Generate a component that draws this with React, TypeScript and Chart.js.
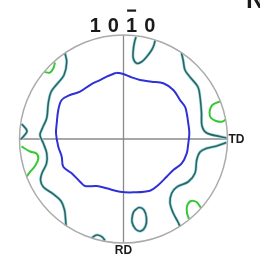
import React, { useEffect, useRef } from "react";
import { Chart, registerables } from "chart.js";

Chart.register(...registerables);

// Pole figure {10-10}, coordinates in % of projection radius (x → TD, y ← RD up)
type P = { x: number; y: number };

const blueLevel: P[] = [
  { x: -6.5, y: 63.8 }, { x: -0.2, y: 62.5 }, { x: 7.9, y: 59.3 }, { x: 15.9, y: 56.7 },
  { x: 27.1, y: 55.1 }, { x: 38.3, y: 53.6 }, { x: 47.9, y: 47.1 }, { x: 54.3, y: 37.5 },
  { x: 59.1, y: 31.1 }, { x: 60.8, y: 24.7 }, { x: 62.3, y: 15.1 }, { x: 63.3, y: 5.5 },
  { x: 62.3, y: -4.1 }, { x: 60.8, y: -13.8 }, { x: 56.0, y: -23.4 }, { x: 47.9, y: -29.8 },
  { x: 41.5, y: -36.3 }, { x: 33.5, y: -44.2 }, { x: 25.5, y: -49.7 }, { x: 9.4, y: -51.3 },
  { x: -3.4, y: -50.7 }, { x: -16.2, y: -47.4 }, { x: -25.8, y: -45.2 }, { x: -37.0, y: -45.2 },
  { x: -41.8, y: -41.1 }, { x: -49.8, y: -33.0 }, { x: -57.9, y: -26.6 }, { x: -59.4, y: -17.0 },
  { x: -62.7, y: -7.4 }, { x: -64.9, y: 5.5 }, { x: -64.2, y: 15.1 }, { x: -62.7, y: 27.9 },
  { x: -59.4, y: 37.5 }, { x: -51.4, y: 42.3 }, { x: -41.8, y: 45.5 }, { x: -32.2, y: 51.9 },
  { x: -22.6, y: 56.7 }, { x: -16.2, y: 59.9 }, { x: -8.2, y: 63.2 }, { x: -6.5, y: 63.8 },
];

const tealLeft: P[] = [
  { x: -56.3, y: 82.7 }, { x: -54.6, y: 74.0 }, { x: -57.2, y: 61.5 }, { x: -63.9, y: 52.9 },
  { x: -69.7, y: 45.2 }, { x: -72.3, y: 34.6 }, { x: -73.8, y: 20.2 }, { x: -77.9, y: 10.6 },
  { x: -80.3, y: 3.8 }, { x: -77.1, y: -4.1 }, { x: -73.8, y: -13.8 }, { x: -74.0, y: -23.4 },
  { x: -78.4, y: -33.0 }, { x: -79.8, y: -39.4 }, { x: -77.1, y: -46.2 }, { x: -67.5, y: -52.9 },
  { x: -60.1, y: -59.6 }, { x: -56.7, y: -68.3 }, { x: -55.8, y: -76.0 }, { x: -55.3, y: -83.5 },
];

const tealLeftEdge: P[] = [
  { x: -97.9, y: 14.4 }, { x: -92.8, y: 7.7 }, { x: -96.6, y: 1.9 }, { x: -99.0, y: -0.5 },
];

const tealTop: P[] = [
  { x: 12.0, y: 98.0 }, { x: 10.6, y: 93.3 }, { x: 9.4, y: 85.6 }, { x: 9.4, y: 77.6 },
  { x: 12.7, y: 72.8 }, { x: 17.5, y: 74.3 }, { x: 22.3, y: 79.1 }, { x: 27.1, y: 85.6 },
  { x: 29.3, y: 90.4 }, { x: 30.3, y: 94.7 },
];

const tealRightUpper: P[] = [
  { x: 55.8, y: 82.7 }, { x: 57.5, y: 75.0 }, { x: 59.1, y: 66.3 }, { x: 63.9, y: 59.6 },
  { x: 71.6, y: 50.0 }, { x: 73.6, y: 40.4 }, { x: 75.0, y: 25.0 }, { x: 75.5, y: 12.5 },
  { x: 80.0, y: 5.8 }, { x: 92.8, y: 2.4 }, { x: 99.0, y: 1.0 },
];

const tealRightLower: P[] = [
  { x: 99.0, y: -3.4 }, { x: 89.6, y: -6.7 }, { x: 80.0, y: -8.9 }, { x: 73.6, y: -12.5 },
  { x: 70.4, y: -20.2 }, { x: 68.8, y: -32.7 }, { x: 62.3, y: -41.1 }, { x: 51.2, y: -46.2 },
  { x: 46.3, y: -52.2 }, { x: 44.7, y: -61.5 }, { x: 47.9, y: -71.4 }, { x: 52.4, y: -79.8 },
  { x: 54.3, y: -84.0 },
];

const tealBottomOval: P[] = [
  { x: 10.1, y: -69.2 }, { x: 14.9, y: -65.9 }, { x: 19.7, y: -68.3 }, { x: 22.1, y: -76.0 },
  { x: 21.2, y: -83.7 }, { x: 16.8, y: -88.5 }, { x: 11.5, y: -86.5 }, { x: 8.2, y: -79.8 },
  { x: 8.7, y: -73.1 }, { x: 10.1, y: -69.2 },
];

const tealBottomLeft: P[] = [
  { x: -30.8, y: -95.2 }, { x: -25.8, y: -92.3 }, { x: -21.0, y: -93.8 }, { x: -17.8, y: -97.6 },
];

const greenLeft: P[] = [
  { x: -98.1, y: -7.2 }, { x: -89.9, y: -12.0 }, { x: -83.7, y: -13.9 }, { x: -81.9, y: -19.2 },
  { x: -85.1, y: -26.0 }, { x: -89.9, y: -31.7 }, { x: -93.0, y: -36.0 },
];

const greenTopLeft: P[] = [
  { x: -76.0, y: 64.4 }, { x: -70.7, y: 63.9 }, { x: -67.3, y: 68.3 }, { x: -65.9, y: 73.6 },
];

const greenRight: P[] = [
  { x: 92.8, y: 36.1 }, { x: 87.0, y: 33.7 }, { x: 84.1, y: 30.8 }, { x: 82.7, y: 25.0 },
  { x: 84.1, y: 20.2 }, { x: 88.9, y: 17.3 }, { x: 94.7, y: 16.6 }, { x: 98.0, y: 18.3 },
];

const greenBottomRight: P[] = [
  { x: 74.5, y: -66.3 }, { x: 70.2, y: -60.6 }, { x: 64.9, y: -59.6 }, { x: 61.1, y: -64.4 },
  { x: 61.1, y: -71.2 }, { x: 63.0, y: -76.9 },
];

const titleDigits = ["1", "0", "1", "0"];
const barredDigit = 2;
const axisLabels = { td: "TD", rd: "RD" };

const BLUE = "#3030d8";
const TEAL = "#2b6464";
const CYAN = "#a3dde3";
const GREEN = "#35c935";

const tealSets = [tealLeft, tealLeftEdge, tealTop, tealRightUpper, tealRightLower, tealBottomOval, tealBottomLeft];
const greenSets = [greenLeft, greenTopLeft, greenRight, greenBottomRight];

const framePlugin = {
  id: "poleFrame",
  beforeDatasetsDraw(chart: any) {
    const { ctx, scales } = chart;
    const xs = scales.x, ys = scales.y;
    const cx = xs.getPixelForValue(0), cy = ys.getPixelForValue(0);
    const r = xs.getPixelForValue(100) - cx;
    ctx.save();
    ctx.strokeStyle = "#8a8a8a";
    ctx.lineWidth = 1.3;
    ctx.beginPath();
    ctx.moveTo(cx, cy - r); ctx.lineTo(cx, cy + r);
    ctx.moveTo(cx - r, cy); ctx.lineTo(cx + r, cy);
    ctx.stroke();
    ctx.restore();
  },
  afterDatasetsDraw(chart: any) {
    const { ctx, scales } = chart;
    const xs = scales.x, ys = scales.y;
    const cx = xs.getPixelForValue(0), cy = ys.getPixelForValue(0);
    const r = xs.getPixelForValue(100) - cx;
    ctx.save();
    ctx.strokeStyle = "#ababab";
    ctx.lineWidth = 1.5;
    ctx.beginPath();
    ctx.arc(cx, cy, r, 0, Math.PI * 2);
    ctx.stroke();

    // title
    ctx.fillStyle = "#1a1a1a";
    ctx.font = "bold 20px 'Liberation Sans', Arial, sans-serif";
    ctx.textBaseline = "alphabetic";
    ctx.textAlign = "center";
    const step = 18.2;
    const baseY = 32;
    const tcx = cx - 1;
    titleDigits.forEach((d, i) => {
      const x = tcx + (i - 1.5) * step;
      ctx.fillText(d, x, baseY);
      if (i === barredDigit) {
        ctx.fillRect(x - 4.5, 9.5, 9, 2.2);
      }
    });

    ctx.font = "bold 12px 'Liberation Sans', Arial, sans-serif";
    ctx.textAlign = "left";
    ctx.textBaseline = "middle";
    ctx.fillText(axisLabels.td, cx + r + 1, cy + 1);
    ctx.textAlign = "center";
    ctx.textBaseline = "top";
    ctx.fillText(axisLabels.rd, cx, cy + r + 2);

    ctx.font = "bold 26px 'Liberation Sans', Arial, sans-serif";
    ctx.textAlign = "left";
    ctx.textBaseline = "alphabetic";
    ctx.fillText("N", 246, 8);
    ctx.restore();
  },
};

export default function App() {
  const ref = useRef<HTMLCanvasElement | null>(null);
  useEffect(() => {
    if (!ref.current) return;
    const line = (data: P[], color: string, width: number, order: number) => ({
      data,
      showLine: true,
      borderColor: color,
      borderWidth: width,
      pointRadius: 0,
      tension: 0.35,
      fill: false,
      order,
    });
    const datasets: any[] = [];
    tealSets.forEach((d) => datasets.push(line(d, CYAN, 3, 4)));
    tealSets.forEach((d) => datasets.push(line(d, TEAL, 1.6, 3)));
    greenSets.forEach((d) => datasets.push(line(d, GREEN, 2, 2)));
    datasets.push(line(blueLevel, BLUE, 2, 1));

    const chart = new Chart(ref.current, {
      type: "scatter",
      data: { datasets },
      options: {
        animation: false,
        responsive: false,
        maintainAspectRatio: false,
        layout: { padding: { left: 19.5, right: 32.5, top: 35, bottom: 24 } },
        plugins: { legend: { display: false }, tooltip: { enabled: false } },
        scales: {
          x: { type: "linear", min: -100, max: 100, display: false },
          y: { type: "linear", min: -100, max: 100, display: false },
        },
      },
      plugins: [framePlugin],
    });
    return () => chart.destroy();
  }, []);
  return (
    <div style={{ position: "fixed", left: 0, top: 0, width: 260, height: 267, background: "#fff" }}>
      <canvas ref={ref} width={260} height={267} style={{ width: 260, height: 267, display: "block" }} />
    </div>
  );
}
